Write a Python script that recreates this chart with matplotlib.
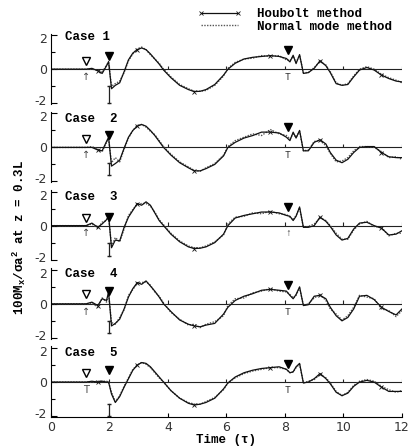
import numpy as np
import matplotlib
matplotlib.use('Agg')
import matplotlib.pyplot as plt
import matplotlib.transforms as mtransforms

plt.rcParams['mathtext.default'] = 'regular'

# ==========================================
# Data
# ==========================================
time = [0, 1.2, 1.4, 1.6, 1.75, 1.9, 1.97, 2.07, 2.2, 2.35,
        2.5, 2.65, 2.8, 2.95, 3.1, 3.25, 3.4, 3.55, 3.7, 3.85,
        4.1, 4.4, 4.7, 4.9, 5.1, 5.3, 5.6, 5.9, 6.05, 6.3,
        6.6, 6.9, 7.2, 7.5, 7.8, 8.05, 8.17, 8.28, 8.38, 8.5,
        8.63, 8.8, 9.0, 9.2, 9.4, 9.55, 9.75, 9.95, 10.15, 10.35,
        10.55, 10.8, 11.05, 11.3, 11.55, 11.8, 12.0]

houbolt_1 = [0, 0, 0.05, -0.1, -0.25, 0.2, 0.45, -1.15, -0.95, -0.8,
             -0.15, 0.55, 0.95, 1.15, 1.25, 1.15, 0.9, 0.6, 0.3, -0.05,
             -0.5, -0.95, -1.2, -1.32, -1.3, -1.2, -0.9, -0.35, 0.0, 0.35,
             0.6, 0.7, 0.75, 0.8, 0.75, 0.63, 0.43, 0.82, 0.33, 0.86,
             -0.25, -0.2, 0.05, 0.5, 0.2, -0.2, -0.85, -0.95, -0.9, -0.45,
             -0.05, 0.1, -0.05, -0.35, -0.55, -0.7, -0.75]
normal_1 = [0, 0, 0.0, -0.05, -0.2, 0.25, 0.4, -1.0, -0.85, -0.7,
            -0.2, 0.5, 0.9, 1.2, 1.3, 1.15, 0.85, 0.6, 0.35, 0.0,
            -0.45, -0.9, -1.15, -1.3, -1.3, -1.25, -0.95, -0.4, 0.05, 0.4,
            0.6, 0.65, 0.8, 0.75, 0.8, 0.55, 0.5, 0.75, 0.4, 0.8,
            -0.2, -0.2, 0.1, 0.45, 0.25, -0.15, -0.8, -0.95, -0.85, -0.4,
            0.0, 0.15, 0.0, -0.3, -0.5, -0.65, -0.8]

houbolt_2 = [0, 0, 0.0, -0.15, -0.2, 0.35, 0.6, -1.1, -0.95, -0.75,
             -0.05, 0.6, 1.0, 1.25, 1.35, 1.25, 1.0, 0.7, 0.35, 0.0,
             -0.45, -0.9, -1.2, -1.38, -1.38, -1.25, -1.0, -0.5, 0.0, 0.3,
             0.55, 0.7, 0.9, 0.9, 0.85, 0.6, 0.4, 0.9, 0.55, 1.0,
             -0.2, -0.2, 0.3, 0.45, 0.2, -0.3, -0.75, -0.9, -0.7, -0.3,
             0.0, 0.05, 0.05, -0.3, -0.55, -0.6, -0.6]
normal_2 = [0, 0, 0.05, -0.1, -0.25, 0.3, 0.5, -0.9, -0.6, -0.85,
            -0.1, 0.55, 1.0, 1.3, 1.35, 1.2, 0.95, 0.75, 0.4, 0.05,
            -0.4, -0.85, -1.15, -1.35, -1.4, -1.2, -0.95, -0.45, 0.05, 0.4,
            0.6, 0.8, 0.7, 1.05, 0.8, 0.7, 0.5, 0.8, 0.6, 0.95,
            -0.2, -0.15, 0.35, 0.4, 0.1, -0.35, -0.85, -0.8, -0.6, -0.2,
            0.05, 0.05, 0.0, -0.25, -0.6, -0.55, -0.7]

houbolt_3 = [0, 0, 0.15, -0.1, 0.1, 0.35, 0.6, -1.3, -0.85, -0.9,
             -0.1, 0.5, 0.9, 1.3, 1.2, 1.4, 1.2, 0.75, 0.3, 0.0,
             -0.5, -0.95, -1.25, -1.35, -1.33, -1.25, -1.0, -0.5, 0.0, 0.45,
             0.6, 0.7, 0.8, 0.8, 0.75, 0.6, 0.55, 0.3, 0.55, 1.1,
             -0.1, -0.1, 0.0, 0.5, 0.25, -0.05, -0.55, -0.85, -0.75, -0.2,
             0.15, 0.2, 0.0, -0.15, -0.55, -0.5, -0.3]
normal_3 = [0, 0, 0.1, -0.15, 0.2, 0.3, 0.55, -1.2, -0.7, -0.95,
            -0.2, 0.6, 0.95, 1.25, 1.3, 1.3, 1.15, 0.8, 0.35, 0.05,
            -0.45, -0.9, -1.2, -1.3, -1.3, -1.2, -0.95, -0.55, 0.1, 0.5,
            0.55, 0.75, 0.7, 0.85, 0.7, 0.65, 0.5, 0.35, 0.6, 1.05,
            -0.1, -0.05, 0.1, 0.45, 0.3, 0.0, -0.45, -0.8, -0.8, -0.25,
            0.1, 0.25, -0.05, -0.1, -0.6, -0.45, -0.45]

houbolt_4 = [0, 0, 0.1, -0.1, 0.3, 0.2, 0.7, -1.3, -1.15, -0.9,
             -0.3, 0.4, 0.9, 1.25, 1.15, 1.35, 1.05, 0.75, 0.4, 0.0,
             -0.45, -0.95, -1.2, -1.3, -1.35, -1.25, -1.15, -0.6, -0.2, 0.2,
             0.45, 0.6, 0.8, 0.85, 0.8, 0.75, 0.5, 0.3, 0.55, 1.0,
             -0.1, -0.05, 0.45, 0.5, 0.3, -0.2, -0.7, -1.0, -0.8, -0.3,
             0.45, 0.5, 0.25, -0.2, -0.45, -0.65, -0.3]
normal_4 = [0, 0, 0.05, -0.2, 0.35, 0.1, 0.6, -1.1, -1.2, -0.8,
            -0.35, 0.5, 0.85, 1.2, 1.25, 1.3, 1.1, 0.7, 0.45, 0.05,
            -0.5, -0.9, -1.25, -1.2, -1.4, -1.2, -1.05, -0.7, -0.1, 0.3,
            0.35, 0.65, 0.75, 0.9, 0.75, 0.7, 0.55, 0.35, 0.5, 0.95,
            -0.1, 0.0, 0.35, 0.55, 0.2, -0.3, -0.6, -0.95, -0.7, -0.2,
            0.5, 0.4, 0.3, -0.3, -0.4, -0.75, -0.4]

houbolt_5 = [0, 0, 0.05, 0.0, 0.05, 0.0, 0.0, -0.7, -1.2, -0.85,
             -0.3, 0.2, 0.7, 1.0, 1.15, 1.1, 0.9, 0.6, 0.3, 0.0,
             -0.5, -0.95, -1.25, -1.35, -1.3, -1.2, -0.95, -0.4, -0.05, 0.3,
             0.55, 0.7, 0.8, 0.85, 0.9, 0.75, 0.55, 0.6, 0.9, 1.1,
             -0.05, 0.0, 0.2, 0.5, 0.2, -0.1, -0.6, -0.8, -0.65, -0.25,
             0.0, 0.1, 0.0, -0.3, -0.55, -0.55, -0.55]
normal_5 = [0, 0, 0.0, 0.05, 0.05, 0.05, 0.0, -0.6, -1.15, -0.8,
            -0.25, 0.25, 0.75, 1.0, 1.15, 1.05, 0.85, 0.55, 0.25, 0.0,
            -0.5, -0.95, -1.2, -1.3, -1.3, -1.15, -0.9, -0.45, -0.05, 0.25,
            0.5, 0.65, 0.75, 0.85, 0.85, 0.75, 0.55, 0.6, 0.85, 1.05,
            -0.05, 0.05, 0.15, 0.45, 0.25, -0.05, -0.55, -0.8, -0.6, -0.2,
            0.05, 0.15, 0.05, -0.25, -0.45, -0.6, -0.5]

case_labels = ['Case 1', 'Case  2', 'Case  3', 'Case  4', 'Case  5']
case_label_y = [1.9, 1.65, 1.66, 1.78, 1.71]

# event markers (open triangle at t1, filled triangles at t2 and t3)
event_t = [1.2, 2.0, 8.1]
open_tri_y = [0.47, 0.48, 0.45, 0.57, 0.53]
fill_tri_y = [0.78, 0.74, 0.5, 0.76, 0.69]
late_tri_y = [1.12, 1.18, 1.08, 1.12, 1.06]
low_sym_1 = ['↑', '↑', '↑', '↑', 'T']
low_sym_3 = ['T', 'T', '↑', 'T', 'T']
bar_top = [-1.0, -0.9, -1.0, -1.0, -1.3]
bar_bot = [-2.0, -1.6, -1.8, -1.7, -2.0]

xticks = [0, 2, 4, 6, 8, 10, 12]

houbolt_all = [houbolt_1, houbolt_2, houbolt_3, houbolt_4, houbolt_5]
normal_all = [normal_1, normal_2, normal_3, normal_4, normal_5]

# ==========================================
# Figure
# ==========================================
MONO = 'Liberation Mono'
fig = plt.figure(figsize=(4.11, 4.48), dpi=100)

for i in range(5):
    bottom = 0.0694 + (4 - i) * 0.1746
    ax = fig.add_axes([0.124, bottom, 0.854, 0.1574])
    ax.set_xlim(0, 12)
    ax.set_ylim(-2.05, 2.1)

    ax.axhline(0, color='#222222', lw=0.8, zorder=1)
    ax.vlines(xticks[1:], 0, 0.2, color='#222222', lw=0.8)

    ax.plot(time, normal_all[i], color='#555555', lw=1.0, ls=(0, (1, 1)),
            label='Normal mode method')
    ax.plot(time, houbolt_all[i], color='#111111', lw=0.9, marker='x',
            ms=3, mew=0.6, markevery=(3, 10), label='Houbolt method')

    ax.plot(event_t[0], open_tri_y[i], marker='v', mfc='white', mec='black',
            mew=1.0, ms=6, ls='none')
    ax.plot(event_t[1], fill_tri_y[i], marker='v', color='black', ms=6, ls='none')
    ax.plot(event_t[2], late_tri_y[i], marker='v', color='black', ms=6, ls='none')
    ax.text(event_t[0], -0.45, low_sym_1[i], ha='center', va='center',
            fontsize=7, color='#444444')
    ax.text(event_t[2], -0.45, low_sym_3[i], ha='center', va='center',
            fontsize=7, color='#333333', family=MONO)
    ax.plot([event_t[1], event_t[1]], [bar_top[i], bar_bot[i]], color='#222222',
            lw=0.9, marker='_', ms=3, clip_on=False)

    ax.text(0.48, case_label_y[i], case_labels[i], fontsize=9, family=MONO,
            fontweight='bold', va='center', ha='left')

    for s in ['top', 'right']:
        ax.spines[s].set_visible(False)
    ax.spines['left'].set_linewidth(0.8)
    ax.set_yticks([-2, 0, 2])
    ax.set_yticklabels(['-2', '0', '2'])
    ax.set_yticks([-1, 1], minor=True)
    ax.tick_params(axis='y', which='major', direction='in', length=4, width=0.8,
                   labelsize=9, pad=3, labelcolor='#333333')
    ax.tick_params(axis='y', which='minor', direction='in', length=3, width=0.8)

    # nudge the end labels apart so stacked panels don't collide
    labs = ax.get_yticklabels()
    up = mtransforms.ScaledTranslation(0, 3 / 100, fig.dpi_scale_trans)
    down = mtransforms.ScaledTranslation(0, -3 / 100, fig.dpi_scale_trans)
    labs[0].set_transform(labs[0].get_transform() + up)
    labs[2].set_transform(labs[2].get_transform() + down)

    if i < 4:
        ax.spines['bottom'].set_visible(False)
        ax.tick_params(axis='x', bottom=False, labelbottom=False)
    else:
        ax.spines['bottom'].set_linewidth(0.8)
        ax.set_xticks(xticks)
        ax.tick_params(axis='x', direction='in', length=3, width=0.8,
                       labelsize=9, pad=3, labelcolor='#333333')
        ax.set_xlabel('Time (τ)', family=MONO, fontweight='bold', fontsize=9,
                      labelpad=0)
        handles, labels = ax.get_legend_handles_labels()

fig.text(0.048, 0.47, '100M$_{x}$/σa$^{2}$ at z = 0.3L', rotation=90,
         family=MONO, fontweight='bold', fontsize=9, ha='center', va='center')

fig.legend(handles[::-1], labels[::-1], loc='upper left',
           bbox_to_anchor=(197 / 411, 1 - 8 / 448), frameon=False,
           prop={'family': MONO, 'weight': 'bold', 'size': 9},
           handlelength=3.6, handletextpad=1.2, labelspacing=0.05,
           borderpad=0, borderaxespad=0, numpoints=2)

fig.savefig('out.png', dpi=100)
